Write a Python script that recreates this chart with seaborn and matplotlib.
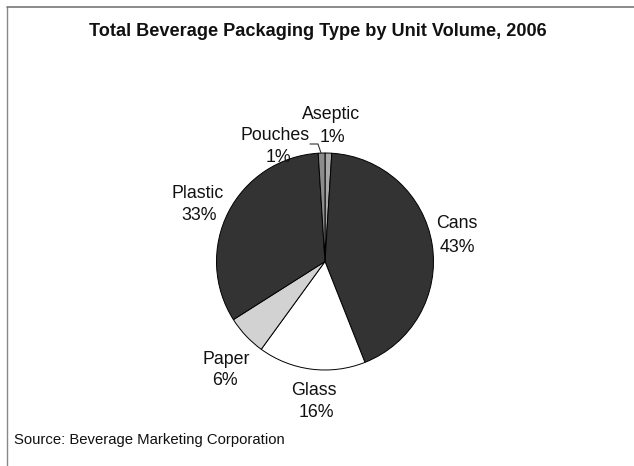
import matplotlib
matplotlib.use("Agg")
import matplotlib.pyplot as plt
import seaborn as sns

# Packaging share by unit volume, 2006 (clockwise from 12 o'clock)
categories = ["Aseptic", "Cans", "Glass", "Paper", "Plastic", "Pouches"]
shares = [1, 43, 16, 6, 33, 1]
slice_colors = ["#a8a8a8", "#333333", "#ffffff", "#d2d2d2", "#333333", "#8c8c8c"]

title = "Total Beverage Packaging Type by Unit Volume, 2006"
source = "Source: Beverage Marketing Corporation"

sns.set_theme(style="white")
plt.rcParams["font.family"] = ["Liberation Sans", "DejaVu Sans"]

W, H = 634, 466
fig = plt.figure(figsize=(W / 100, H / 100), dpi=100)
ax = fig.add_axes([0, 0, 1, 1])


def py(y):
    """Convert a top-down pixel row to the axes' y coordinate."""
    return H - y


cx, cy, r = 325, py(261.5), 108.5
wedges, _ = ax.pie(
    shares,
    colors=slice_colors,
    startangle=90,
    counterclock=False,
    center=(cx, cy),
    radius=r,
    wedgeprops=dict(edgecolor="black", linewidth=0.7),
    frame=True,
)
ax.set_xlim(0, W)
ax.set_ylim(0, H)
ax.set_aspect("equal")
ax.set_axis_off()

LABEL_FS = 12.8
INK = "#111111"

# Label layout: (name x, name baseline, value x, value baseline) in pixels
label_pos = {
    "Aseptic": (331, 119, 332, 142),
    "Cans": (457, 228, 457, 252),
    "Glass": (314, 395, 316, 417),
    "Paper": (226, 364, 225, 385),
    "Plastic": (198, 198, 199, 220),
    "Pouches": (275, 140, 278, 162),
}
for name, val in zip(categories, shares):
    nx, ny, vx, vy = label_pos[name]
    ax.text(nx, py(ny), name, ha="center", va="baseline", fontsize=LABEL_FS, color=INK)
    ax.text(vx, py(vy), f"{val}%", ha="center", va="baseline", fontsize=LABEL_FS, color=INK)

# Leader line from the Pouches label to its slice
ax.plot([310, 318, 321], [py(144), py(144), py(153)], color="#333333", lw=0.8)

ax.text(318, py(31), title, ha="center", va="center", fontsize=13.1,
        fontweight="bold", color=INK)
ax.text(14, py(440), source, ha="left", va="center", fontsize=10.7, color=INK)

# Chart frame (left and top edges)
ax.plot([7, 7], [py(7), py(466)], color="#888888", lw=1.0)
ax.plot([7, 634], [py(7), py(7)], color="#777777", lw=1.2)

fig.savefig("out.png", dpi=100)
